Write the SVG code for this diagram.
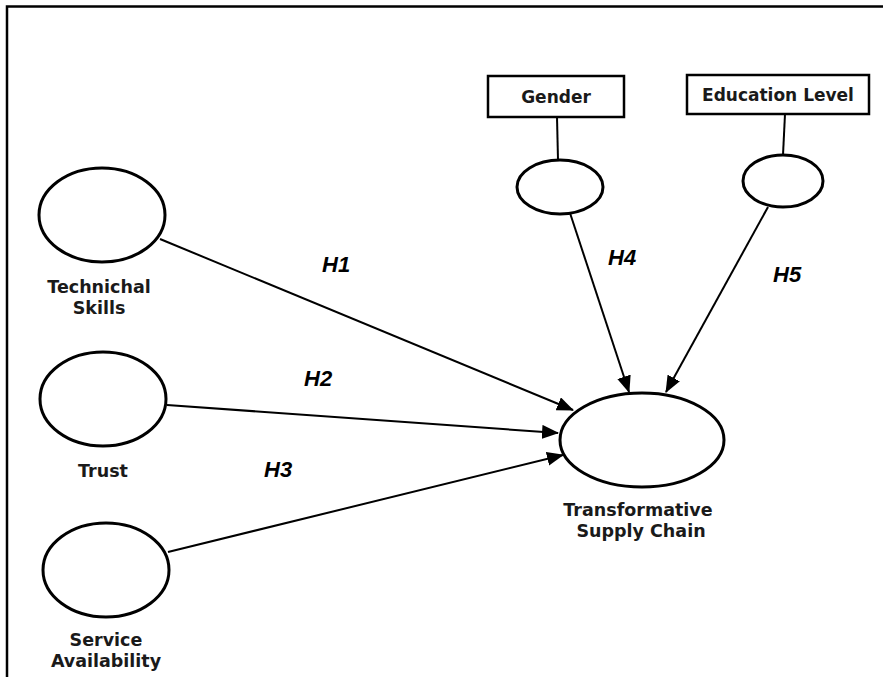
<svg xmlns="http://www.w3.org/2000/svg" width="883" height="677" viewBox="0 0 883 677">
<style>
.node{fill:#fff;stroke:#000;stroke-width:3}
.box{fill:#fff;stroke:#000;stroke-width:2.5}
.lbl{font-family:"DejaVu Sans","Open Sans",sans-serif;font-weight:bold;font-size:17.5px;fill:#1a1a1a;text-anchor:middle}
.blbl{font-family:"DejaVu Sans","Open Sans",sans-serif;font-weight:bold;font-size:17px;fill:#1a1a1a;text-anchor:middle}
.h{font-family:"Liberation Sans",Arial,sans-serif;font-weight:bold;font-style:italic;font-size:22px;fill:#000}
.edge{stroke:#000;stroke-width:2;fill:none}
</style>
<defs>
<marker id="arr" markerUnits="userSpaceOnUse" markerWidth="18" markerHeight="14" refX="16" refY="7" orient="auto">
<path d="M0,0 L17,7 L0,14 Z" fill="#000"/>
</marker>
</defs>
<rect width="883" height="677" fill="#fff"/>
<g id="frame">
<path d="M7,677 V6.5 H883" fill="none" stroke="#000" stroke-width="2.5"/>
</g>
<g id="connectors">
<line class="edge" x1="160" y1="239" x2="573" y2="410" marker-end="url(#arr)"/>
<line class="edge" x1="167" y1="405" x2="558" y2="433" marker-end="url(#arr)"/>
<line class="edge" x1="168" y1="552" x2="563" y2="455" marker-end="url(#arr)"/>
<line class="edge" x1="570" y1="213" x2="629" y2="392" marker-end="url(#arr)"/>
<line class="edge" x1="768" y1="207" x2="666" y2="392" marker-end="url(#arr)"/>
<line class="edge" x1="557" y1="117" x2="558" y2="160"/>
<line class="edge" x1="785" y1="114" x2="783" y2="155"/>
</g>
<g id="technical-skills">
<ellipse class="node" cx="102" cy="215" rx="63" ry="47"/>
<text class="lbl" x="99" y="293">Technichal</text>
<text class="lbl" x="99" y="314">Skills</text>
</g>
<g id="trust">
<ellipse class="node" cx="103" cy="399" rx="63" ry="47"/>
<text class="lbl" x="103" y="477">Trust</text>
</g>
<g id="service-availability">
<ellipse class="node" cx="106" cy="570" rx="63" ry="47"/>
<text class="lbl" x="106" y="646">Service</text>
<text class="lbl" x="106" y="667">Availability</text>
</g>
<g id="transformative-supply-chain">
<ellipse class="node" cx="642" cy="440" rx="82" ry="47"/>
<text class="lbl" x="638" y="516">Transformative</text>
<text class="lbl" x="641" y="537">Supply Chain</text>
</g>
<g id="gender">
<rect class="box" x="488" y="76" width="136" height="41"/>
<text class="blbl" x="556" y="103">Gender</text>
</g>
<g id="gender-latent">
<ellipse class="node" cx="560" cy="187" rx="43" ry="27"/>
</g>
<g id="education-level">
<rect class="box" x="687" y="75" width="182" height="39"/>
<text class="blbl" x="778" y="101">Education Level</text>
</g>
<g id="education-latent">
<ellipse class="node" cx="783" cy="181" rx="40" ry="26"/>
</g>
<g id="labels">
<text class="h" x="322" y="272">H1</text>
<text class="h" x="304" y="386">H2</text>
<text class="h" x="264" y="477">H3</text>
<text class="h" x="608" y="265">H4</text>
<text class="h" x="773" y="282">H5</text>
</g>
</svg>
